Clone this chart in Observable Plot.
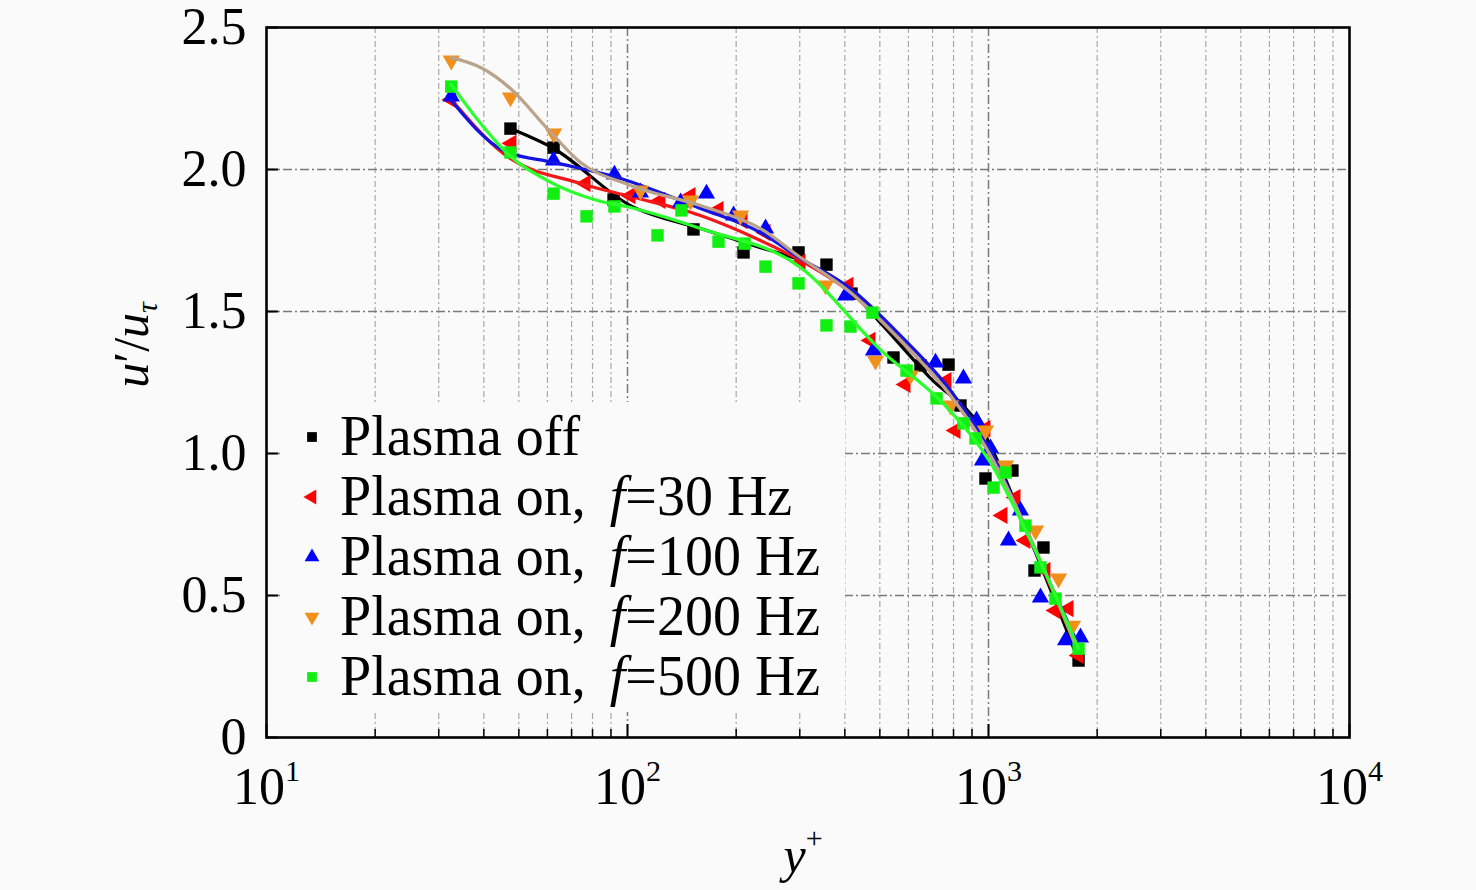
<!DOCTYPE html>
<html><head><meta charset="utf-8">
<script src="https://cdn.jsdelivr.net/npm/d3@7"></script>
<script src="https://cdn.jsdelivr.net/npm/@observablehq/plot@0.6"></script>
<style>
html,body{margin:0;padding:0;background:#fafafa;}
#chart{width:1476px;height:890px;}
</style></head><body><div id="chart"></div>
<script>
// ---- data ----
const offX = [47.4, 62.4, 91.5, 152.3, 209.6, 297.7, 355.8, 417.3, 545.6, 648.1, 775.0, 836.2, 980.9, 1165, 1341, 1420, 1776];
const offY = [2.144, 2.077, 1.894, 1.789, 1.708, 1.708, 1.665, 1.563, 1.338, 1.310, 1.313, 1.169, 0.912, 0.940, 0.588, 0.669, 0.271];

const on30X = [32.5, 47.7, 76.5, 101.9, 123.4, 149.5, 178.7, 208.3, 241.2, 301.5, 409.4, 471.1, 589.0, 764.9, 810.2, 980.9, 1093, 1188, 1266, 1438, 1533, 1666, 1776];
const on30Y = [2.246, 2.092, 1.951, 1.908, 1.891, 1.908, 1.859, 1.820, 1.778, 1.673, 1.592, 1.398, 1.243, 1.257, 1.081, 1.088, 0.782, 0.845, 0.694, 0.588, 0.447, 0.454, 0.289];

const on100X = [32.5, 62.4, 92.0, 108.6, 140.3, 165.5, 196.7, 241.2, 401.7, 480.2, 713.2, 852.3, 926.5, 1013, 962.5, 1226, 1136, 1393, 1635, 1798];
const on100Y = [2.257, 2.032, 1.982, 1.919, 1.884, 1.915, 1.838, 1.792, 1.556, 1.363, 1.320, 1.264, 1.116, 1.018, 0.975, 0.799, 0.694, 0.493, 0.342, 0.352];

const on200X = [32.5, 47.4, 62.4, 108.6, 149.5, 205.6, 353.6, 486.4, 608.1, 784.8, 980.9, 1115, 1350, 1563, 1709];
const on200Y = [2.384, 2.254, 2.127, 1.926, 1.891, 1.838, 1.592, 1.327, 1.275, 1.169, 1.081, 0.958, 0.729, 0.560, 0.394];

const on500X = [32.5, 47.4, 62.4, 77.0, 92.0, 121.1, 141.1, 178.7, 211.0, 241.2, 297.7, 355.8, 414.7, 477.1, 592.9, 717.8, 852.3, 920.5, 1033, 1115, 1266, 1393, 1533, 1776];
const on500Y = [2.292, 2.060, 1.915, 1.835, 1.870, 1.768, 1.856, 1.746, 1.739, 1.658, 1.599, 1.451, 1.447, 1.496, 1.292, 1.194, 1.106, 1.053, 0.880, 0.933, 0.746, 0.599, 0.489, 0.313];

// fitted curves
const fitOffX = [47.4, 62.4, 101.9, 159.3, 233.6, 301.5, 414.7, 502.2, 690.9, 950.2, 1307, 1776];
const fitOffY = [2.144, 2.074, 1.873, 1.792, 1.725, 1.680, 1.574, 1.460, 1.265, 1.092, 0.694, 0.271];
const fit30X = [32.5, 45.3, 74.1, 101.9, 159.3, 233.6, 301.5, 414.7, 570.5, 784.8, 1013, 1307, 1776];
const fit30Y = [2.246, 2.056, 1.951, 1.905, 1.838, 1.750, 1.680, 1.567, 1.398, 1.204, 0.993, 0.694, 0.299];
const fit100X = [32.5, 45.3, 62.4, 93.8, 159.3, 233.6, 301.5, 414.7, 570.5, 784.8, 1013, 1307, 1776];
const fit100Y = [2.243, 2.067, 2.025, 1.972, 1.863, 1.778, 1.687, 1.581, 1.415, 1.222, 1.011, 0.694, 0.324];
const fit200X = [32.5, 39.2, 47.4, 60.0, 74.1, 101.9, 159.3, 233.6, 301.5, 414.7, 570.5, 784.8, 1013, 1307, 1742];
const fit200Y = [2.394, 2.359, 2.285, 2.144, 2.025, 1.944, 1.873, 1.792, 1.690, 1.567, 1.398, 1.204, 0.993, 0.704, 0.324];
const fit500X = [32.5, 39.2, 46.5, 60.0, 82.6, 101.9, 159.3, 301.5, 502.2, 770, 1013, 1307, 1776];
const fit500Y = [2.299, 2.162, 2.056, 1.961, 1.891, 1.866, 1.792, 1.655, 1.365, 1.160, 0.968, 0.694, 0.313];

const legendLabels = ["Plasma off", "30 Hz", "100 Hz", "200 Hz", "500 Hz"];
const xMajorTicks = [10, 100, 1000, 10000];
const xMinorTicks = [20,30,40,50,60,70,80,90,200,300,400,500,600,700,800,900,2000,3000,4000,5000,6000,7000,8000,9000];
const yTicks = [0, 0.5, 1.0, 1.5, 2.0, 2.5];
const yGrid = [0.5, 1.0, 1.5, 2.0];

// ---- symbols ----
function tri(dir) {
  return { draw(ctx, size) {
    const a = Math.sqrt(size / (Math.sqrt(3) * 3)), s = Math.sqrt(3) * a;
    if (dir === "up") { ctx.moveTo(0, -2*a); ctx.lineTo(-s, a); ctx.lineTo(s, a); }
    else if (dir === "down") { ctx.moveTo(0, 2*a); ctx.lineTo(-s, -a); ctx.lineTo(s, -a); }
    else { ctx.moveTo(-2*a, 0); ctx.lineTo(a, -s); ctx.lineTo(a, s); }
    ctx.closePath();
  }};
}
const series = [
  {xs: offX, ys: offY, fx: fitOffX, fy: fitOffY, color: "#000000", line: "#000000", symbol: d3.symbolSquare, r: 7.0},
  {xs: on30X, ys: on30Y, fx: fit30X, fy: fit30Y, color: "#ff0000", line: "#f01818", symbol: tri("left"), r: 6.4},
  {xs: on100X, ys: on100Y, fx: fit100X, fy: fit100Y, color: "#0000ff", line: "#1414e0", symbol: tri("up"), r: 6.4},
  {xs: on200X, ys: on200Y, fx: fit200X, fy: fit200Y, color: "#f0901a", line: "#b9a38a", symbol: tri("down"), r: 6.4},
  {xs: on500X, ys: on500Y, fx: fit500X, fy: fit500Y, color: "#11ee11", line: "#2bff2b", symbol: d3.symbolSquare, r: 7.0},
];

const W = 1476, H = 890, mL = 266, mR = 127, mT = 27, mB = 153;
const innerW = W - mL - mR, innerH = H - mT - mB;
const FONT = "Liberation Serif, Times New Roman, serif";

const marks = [
  Plot.ruleX(xMinorTicks, {x: d => d, stroke: "#a8a8a8", strokeWidth: 1.2, strokeDasharray: "6,3,2,3"}),
  Plot.ruleX([100, 1000], {x: d => d, stroke: "#7a7a7a", strokeWidth: 1.5, strokeDasharray: "9,3,2,3"}),
  Plot.ruleY(yGrid, {y: d => d, stroke: "#7a7a7a", strokeWidth: 1.5, strokeDasharray: "9,3,2,3"}),
];
series.forEach(s => {
  const idx = d3.range(s.xs.length);
  const fidx = d3.range(s.fx.length);
  marks.push(Plot.dot(idx, {x: i => s.xs[i], y: i => s.ys[i], symbol: s.symbol, r: s.r, fill: s.color, stroke: "none"}));
  marks.push(Plot.line(fidx, {x: i => s.fx[i], y: i => s.fy[i], curve: "monotone-x", stroke: s.line, strokeWidth: 3.2}));
});
marks.push(
  Plot.tickX(xMinorTicks, {x: d => d, insetTop: innerH - 8, stroke: "#000", strokeWidth: 1.5}),
  Plot.tickX(xMajorTicks, {x: d => d, insetTop: innerH - 13, stroke: "#000", strokeWidth: 2}),
  Plot.tickY(yTicks, {y: d => d, insetRight: innerW - 12, stroke: "#000", strokeWidth: 2}),
  Plot.frame({stroke: "#000", strokeWidth: 2.6}),
  Plot.axisX(xMajorTicks, {tickSize: 0, tickPadding: 30, fontSize: 52, fontFamily: FONT, fill: "#000",
    tickFormat: d => "10^" + Math.round(Math.log10(d))}),
  Plot.axisY(yTicks, {tickSize: 0, tickPadding: 20, fontSize: 52, fontFamily: FONT, fill: "#000",
    tickFormat: d => d === 0 ? "0" : d.toFixed(1)})
);

const chart = Plot.plot({
  width: W, height: H,
  marginLeft: mL, marginRight: mR, marginTop: mT, marginBottom: mB,
  x: {type: "log", domain: [10, 10000], label: null},
  y: {domain: [0, 2.5], label: null},
  style: {background: "#fafafa", fontFamily: FONT, color: "#000", overflow: "visible"},
  marks
});
document.getElementById("chart").appendChild(chart);

const svg = d3.select(chart);
// superscript exponents on x tick labels
svg.selectAll('g[aria-label="x-axis tick label"] text').each(function() {
  const t = this.textContent; const [b, e] = t.split("^");
  const sel = d3.select(this); sel.text(null);
  sel.append("tspan").text(b);
  sel.append("tspan").attr("dy", "-0.78em").attr("font-size", "0.58em").text(e);
});

// axis titles
const xl = svg.append("text").attr("x", 803).attr("y", 872).attr("text-anchor", "middle")
  .attr("font-family", FONT).attr("font-size", 50).attr("fill", "#000");
xl.append("tspan").attr("font-style", "italic").text("y");
xl.append("tspan").attr("dy", "-0.8em").attr("font-size", "0.6em").text("+");

const yl = svg.append("text").attr("transform", "translate(148,345) rotate(-90)").attr("text-anchor", "middle")
  .attr("font-family", FONT).attr("font-size", 50).attr("fill", "#000");
yl.append("tspan").attr("font-style", "italic").text("u");
yl.append("tspan").text("′/");
yl.append("tspan").attr("font-style", "italic").text("u");
yl.append("tspan").attr("dy", "0.3em").attr("font-size", "0.6em").attr("font-style", "italic").text("τ");

// legend
const lg = svg.append("g").attr("text-anchor", "start");
lg.append("rect").attr("x", 283).attr("y", 402).attr("width", 562).attr("height", 310).attr("fill", "#fafafa");
series.forEach((s, i) => {
  const cy = 437 + 60 * i;
  const sz = s.symbol === d3.symbolSquare ? 95 : 95;
  lg.append("path").attr("transform", `translate(312,${cy})`)
    .attr("d", d3.symbol().type(s.symbol).size(sz)()).attr("fill", s.color);
  const t = lg.append("text").attr("x", 340).attr("y", cy + 18).attr("text-anchor", "start")
    .attr("font-family", FONT).attr("font-size", 56).attr("fill", "#000");
  if (i === 0) t.text(legendLabels[0]);
  else {
    t.append("tspan").text("Plasma on,");
    t.append("tspan").attr("dx", 24).attr("font-style", "italic").text("f");
    t.append("tspan").text("=" + legendLabels[i]);
  }
});
</script>
</body></html>
